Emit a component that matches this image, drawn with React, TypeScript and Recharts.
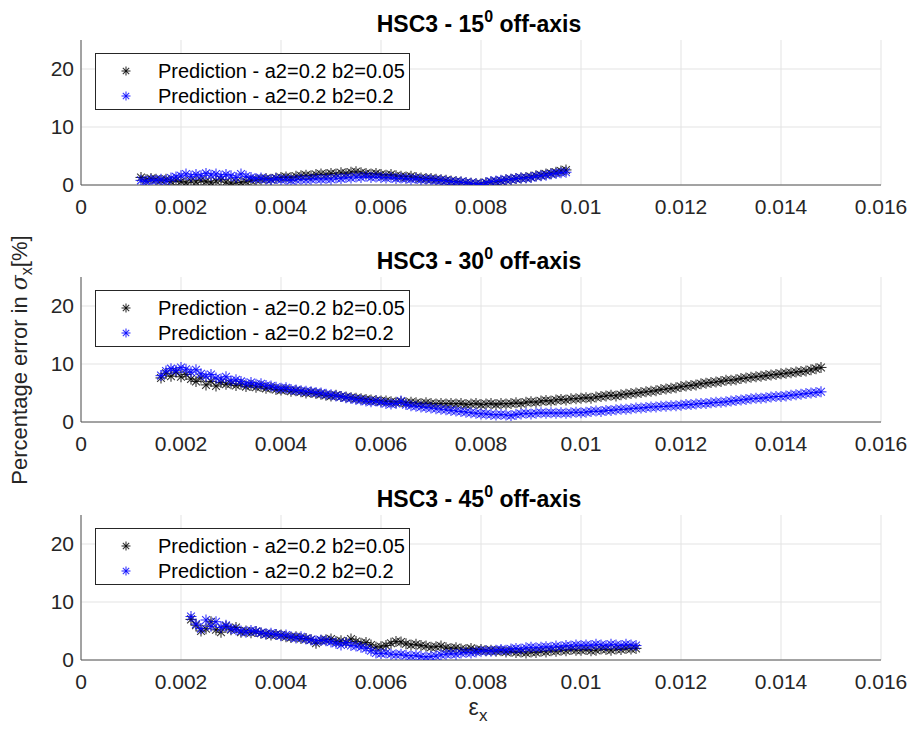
import { ScatterChart, Scatter, XAxis, YAxis, CartesianGrid, Legend } from 'recharts';

const FONT = '"Liberation Sans", Arial, sans-serif';

const xTicks = [0, 0.002, 0.004, 0.006, 0.008, 0.01, 0.012, 0.014, 0.016];
const yTicks = [0, 10, 20];
const seriesNames = ['Prediction - a2=0.2 b2=0.05', 'Prediction - a2=0.2 b2=0.2'];
const seriesColors = ['#000000', '#0000ff'];

// strain values in units of 1e-4
const strain15 = [
  12, 13, 14, 15, 16, 17, 18, 19, 20, 21, 22, 23, 24, 25, 26, 27, 28, 29, 30, 31, 32, 33, 34, 35, 36, 37, 38, 39, 40, 41,
  42, 43, 44, 45, 46, 47, 48, 49, 50, 51, 52, 53, 54, 55, 56, 57, 58, 59, 60, 61, 62, 63, 64, 65, 66, 67, 68, 69, 70, 71,
  72, 73, 74, 75, 76, 77, 78, 79, 80, 81, 82, 83, 84, 85, 86, 87, 88, 89, 90, 91, 92, 93, 94, 95, 96, 97,
];
const err15b005 = [
  1.3, 0.9, 1.1, 1.0, 0.8, 1.0, 0.6, 0.8, 0.6, 0.4, 0.7, 0.5, 0.8, 0.6, 0.4, 0.7, 0.9, 0.5, 0.3, 0.5, 0.4, 0.6, 0.8, 0.9, 1.0, 1.1, 1.0, 1.2, 1.3, 1.4,
  1.3, 1.5, 1.6, 1.7, 1.6, 1.8, 1.9, 1.8, 2.0, 1.9, 2.1, 2.0, 2.2, 2.3, 2.1, 2.0, 1.9, 2.0, 1.8, 1.7, 1.8, 1.6, 1.5, 1.4, 1.5, 1.3, 1.2, 1.1, 1.1, 1.0,
  0.9, 0.8, 0.7, 0.6, 0.5, 0.4, 0.3, 0.2, 0.2, 0.4, 0.5, 0.6, 0.7, 0.9, 1.0, 1.1, 1.2, 1.3, 1.4, 1.6, 1.7, 1.9, 2.0, 2.2, 2.4, 2.6,
];
const err15b02 = [
  0.8, 0.6, 0.9, 0.8, 1.0, 0.7, 1.2, 1.4, 1.6, 1.9, 1.5, 1.8, 1.6, 2.0, 1.7, 1.9, 1.5, 1.8, 1.6, 1.3, 1.9, 1.5, 1.3, 1.1, 1.2, 1.0, 0.9, 1.1, 0.9, 1.0,
  0.8, 0.9, 1.0, 0.9, 1.0, 1.1, 1.0, 1.1, 1.0, 1.2, 1.1, 1.3, 1.2, 1.4, 1.3, 1.5, 1.3, 1.4, 1.3, 1.2, 1.3, 1.1, 1.2, 1.1, 1.0, 1.1, 0.9, 1.0, 0.9, 0.8,
  0.8, 0.7, 0.6, 0.5, 0.5, 0.4, 0.3, 0.2, 0.1, 0.4, 0.6, 0.7, 0.8, 0.9, 1.0, 1.1, 1.2, 1.2, 1.3, 1.5, 1.6, 1.7, 1.9, 2.0, 2.1, 2.2,
];

const strain30 = [
  16, 17, 18, 19, 20, 21, 22, 23, 24, 25, 26, 27, 28, 29, 30, 31, 32, 33, 34, 35, 36, 37, 38, 39, 40, 41, 42, 43, 44, 45,
  46, 47, 48, 49, 50, 51, 52, 53, 54, 55, 56, 57, 58, 59, 60, 61, 62, 63, 64, 65, 66, 67, 68, 69, 70, 71, 72, 73, 74, 75,
  76, 77, 78, 79, 80, 81, 82, 83, 84, 85, 86, 87, 88, 89, 90, 91, 92, 93, 94, 95, 96, 97, 98, 99, 100, 101, 102, 103, 104, 105,
  106, 107, 108, 109, 110, 111, 112, 113, 114, 115, 116, 117, 118, 119, 120, 121, 122, 123, 124, 125, 126, 127, 128, 129, 130, 131, 132, 133, 134, 135,
  136, 137, 138, 139, 140, 141, 142, 143, 144, 145, 146, 147, 148,
];
const err30b005 = [
  7.6, 8.4, 7.9, 8.6, 7.8, 8.2, 7.4, 7.0, 7.6, 6.4, 7.0, 6.2, 6.8, 6.5, 6.6, 6.3, 6.5, 6.1, 6.3, 6.0, 6.1, 5.8, 5.9, 5.6, 5.5, 5.6, 5.3, 5.4, 5.2, 5.0,
  5.1, 4.9, 4.8, 4.6, 4.5, 4.6, 4.4, 4.3, 4.2, 4.1, 4.0, 3.9, 3.8, 3.7, 3.6, 3.6, 3.5, 3.4, 3.5, 3.3, 3.4, 3.3, 3.2, 3.3, 3.2, 3.1, 3.2, 3.1, 3.2, 3.1,
  3.2, 3.0, 3.1, 3.2, 3.0, 3.1, 3.2, 3.0, 3.2, 3.1, 3.2, 3.3, 3.2, 3.4, 3.5, 3.4, 3.6, 3.7, 3.6, 3.8, 3.9, 3.8, 4.0, 4.0, 4.1, 4.2, 4.1, 4.3, 4.4, 4.5,
  4.6, 4.5, 4.7, 4.8, 4.9, 5.0, 5.1, 5.2, 5.3, 5.4, 5.6, 5.7, 5.8, 5.9, 6.1, 6.2, 6.3, 6.4, 6.6, 6.7, 6.8, 6.9, 7.0, 7.2, 7.2, 7.3, 7.5, 7.6, 7.7, 7.8,
  7.9, 8.0, 8.1, 8.2, 8.3, 8.4, 8.5, 8.6, 8.7, 8.8, 9.0, 9.2, 9.4,
];
const err30b02 = [
  8.0, 8.8, 9.2, 8.9, 9.4, 9.1, 8.6, 9.0, 8.3, 7.9, 8.2, 7.6, 7.4, 7.8, 7.1, 7.3, 7.0, 6.6, 6.8, 6.5, 6.6, 6.3, 6.2, 6.0, 5.8, 5.9, 5.6, 5.5, 5.4, 5.3,
  5.2, 5.1, 5.0, 4.8, 4.7, 4.5, 4.4, 4.2, 4.1, 3.9, 3.8, 3.6, 3.5, 3.6, 3.4, 3.2, 3.1, 3.2, 3.6, 3.0, 2.8, 2.7, 2.6, 2.5, 2.4, 2.3, 2.2, 2.1, 2.0, 1.9,
  1.8, 1.7, 1.6, 1.5, 1.4, 1.4, 1.3, 1.2, 1.3, 1.2, 1.1, 1.3, 1.4, 1.5, 1.4, 1.5, 1.6, 1.5, 1.6, 1.5, 1.6, 1.5, 1.6, 1.7, 1.6, 1.7, 1.8, 1.9, 1.8, 2.0,
  2.0, 2.1, 2.2, 2.2, 2.3, 2.4, 2.4, 2.5, 2.6, 2.6, 2.7, 2.7, 2.8, 2.8, 2.9, 3.0, 3.0, 3.1, 3.2, 3.2, 3.3, 3.4, 3.4, 3.5, 3.6, 3.7, 3.8, 3.9, 4.0, 4.1,
  4.1, 4.2, 4.3, 4.4, 4.4, 4.5, 4.6, 4.7, 4.8, 4.9, 5.0, 5.1, 5.2,
];

const strain45 = [
  22, 23, 24, 25, 26, 27, 28, 29, 30, 31, 32, 33, 34, 35, 36, 37, 38, 39, 40, 41, 42, 43, 44, 45, 46, 47, 48, 49, 50, 51,
  52, 53, 54, 55, 56, 57, 58, 59, 60, 61, 62, 63, 64, 65, 66, 67, 68, 69, 70, 71, 72, 73, 74, 75, 76, 77, 78, 79, 80, 81,
  82, 83, 84, 85, 86, 87, 88, 89, 90, 91, 92, 93, 94, 95, 96, 97, 98, 99, 100, 101, 102, 103, 104, 105, 106, 107, 108, 109, 110, 111,
];
const err45b005 = [
  7.0, 6.0, 5.0, 5.4, 6.6, 5.2, 4.8, 5.8, 5.2, 5.6, 4.8, 5.0, 4.7, 4.9, 4.6, 4.5, 4.3, 4.4, 4.3, 4.0, 3.9, 4.0, 3.7, 3.7, 3.5, 2.9, 3.4, 3.5, 3.6, 3.2,
  3.3, 3.0, 3.6, 3.2, 2.9, 3.0, 2.6, 2.2, 2.3, 2.5, 2.9, 3.2, 3.1, 2.8, 2.6, 2.7, 2.5, 2.4, 2.2, 2.3, 2.4, 2.1, 2.0, 2.1, 1.9, 1.8, 2.0, 1.7, 1.8, 1.6,
  1.7, 1.5, 1.6, 1.4, 1.5, 1.3, 1.4, 1.2, 1.4, 1.3, 1.5, 1.4, 1.6, 1.5, 1.7, 1.6, 1.8, 1.7, 1.7, 1.8, 1.6, 1.7, 1.9, 1.8, 1.7, 1.9, 1.8, 2.0, 1.9, 2.0,
];
const err45b02 = [
  7.5, 6.2, 5.4, 6.9, 5.8, 6.6, 5.6, 6.0, 5.4, 5.2, 5.0, 4.8, 5.1, 4.9, 4.7, 4.5, 4.6, 4.4, 4.2, 4.3, 4.0, 3.8, 4.0, 3.6, 3.5, 3.3, 3.4, 3.3, 3.1, 2.9,
  2.6, 3.0, 2.5, 2.4, 2.2, 2.0, 1.6, 1.2, 1.1, 1.2, 1.0, 0.9, 1.0, 0.8, 0.7, 0.8, 0.6, 0.5, 0.6, 0.7, 0.9, 1.0, 1.1, 1.0, 1.2, 1.3, 1.2, 1.4, 1.5, 1.6,
  1.5, 1.7, 1.8, 1.7, 1.9, 2.0, 1.9, 2.1, 2.2, 2.1, 2.2, 2.3, 2.2, 2.4, 2.3, 2.5, 2.4, 2.6, 2.5, 2.6, 2.5, 2.7, 2.6, 2.5, 2.7, 2.6, 2.5, 2.7, 2.6, 2.5,
];

const toPoints = (strain: number[], err: number[]) =>
  strain.map((s, i) => ({ x: s / 10000, y: err[i] }));

function Asterisk({ cx, cy, color, r = 5.5 }: { cx: number; cy: number; color: string; r?: number }) {
  const d = r * 0.707;
  return (
    <g stroke={color} strokeWidth={1.1} strokeOpacity={0.8}>
      <line x1={cx - r} y1={cy} x2={cx + r} y2={cy} />
      <line x1={cx} y1={cy - r} x2={cx} y2={cy + r} />
      <line x1={cx - d} y1={cy - d} x2={cx + d} y2={cy + d} />
      <line x1={cx - d} y1={cy + d} x2={cx + d} y2={cy - d} />
    </g>
  );
}

function PanelLegend() {
  return (
    <div
      style={{
        position: 'relative',
        width: 313,
        height: 55,
        border: '1px solid #262626',
        background: '#fff',
        fontFamily: FONT,
        fontSize: 20,
        color: '#000',
      }}
    >
      {seriesNames.map((name, i) => (
        <div key={name} style={{ position: 'absolute', left: 0, top: 5 + i * 25, height: 24, width: 313 }}>
          <svg width={40} height={24} style={{ position: 'absolute', left: 12, top: 0 }}>
            <Asterisk cx={18} cy={12} color={seriesColors[i]} r={4.5} />
          </svg>
          <span style={{ position: 'absolute', left: 62, top: 0, lineHeight: '24px', whiteSpace: 'nowrap' }}>{name}</span>
        </div>
      ))}
    </div>
  );
}

const fmtX = (v: number) => String(Number(v.toFixed(4)));

function Panel({ top, low, high }: { top: number; low: { x: number; y: number }[]; high: { x: number; y: number }[] }) {
  const tick = { fontSize: 21, fill: '#262626', fontFamily: FONT };
  return (
    <div style={{ position: 'absolute', left: 0, top, width: 907, height: 225 }}>
      <ScatterChart width={907} height={225} margin={{ top: 40, right: 26, bottom: 5, left: 31 }}>
        <CartesianGrid stroke="#e3e3e3" horizontalValues={yTicks} verticalValues={xTicks} />
        <XAxis
          type="number"
          dataKey="x"
          domain={[0, 0.016]}
          ticks={xTicks}
          tickFormatter={fmtX}
          height={35}
          tickLine={false}
          tickSize={0}
          tickMargin={14}
          stroke="#555"
          tick={tick}
          allowDataOverflow
        />
        <YAxis
          type="number"
          dataKey="y"
          domain={[0, 25]}
          ticks={yTicks}
          width={50}
          tickLine={false}
          tickSize={0}
          tickMargin={7}
          stroke="#555"
          tick={tick}
          allowDataOverflow
        />
        <Legend
          layout="vertical"
          align="center"
          verticalAlign="middle"
          wrapperStyle={{ left: 95, top: 53, width: 315, height: 57 }}
          content={() => <PanelLegend />}
        />
        <Scatter
          name={seriesNames[0]}
          data={low}
          isAnimationActive={false}
          shape={(p: any) => <Asterisk cx={p.cx} cy={p.cy} color={seriesColors[0]} />}
        />
        <Scatter
          name={seriesNames[1]}
          data={high}
          isAnimationActive={false}
          shape={(p: any) => <Asterisk cx={p.cx} cy={p.cy} color={seriesColors[1]} />}
        />
      </ScatterChart>
    </div>
  );
}

const titles = [
  { angle: '15', y: 32 },
  { angle: '30', y: 269 },
  { angle: '45', y: 507 },
];

export default function App() {
  return (
    <div style={{ position: 'absolute', left: 0, top: 0, width: 907, height: 735, background: '#fff' }}>
      <Panel top={0} low={toPoints(strain15, err15b005)} high={toPoints(strain15, err15b02)} />
      <Panel top={237} low={toPoints(strain30, err30b005)} high={toPoints(strain30, err30b02)} />
      <Panel top={475} low={toPoints(strain45, err45b005)} high={toPoints(strain45, err45b02)} />
      <svg
        width={907}
        height={735}
        style={{ position: 'absolute', left: 0, top: 0, pointerEvents: 'none' }}
        fontFamily={FONT}
      >
        {titles.map((t) => (
          <text key={t.angle} x={479} y={t.y} textAnchor="middle" fontSize={23} fontWeight="bold" fill="#000">
            HSC3 - {t.angle}
            <tspan dy={-10} fontSize={16}>0</tspan>
            <tspan dy={10}> off-axis</tspan>
          </text>
        ))}
        <text x={27} y={360} transform="rotate(-90 27 360)" textAnchor="middle" fontSize={22} fill="#262626">
          Percentage error in <tspan fontStyle="italic" fontFamily="DejaVu Serif">σ</tspan>
          <tspan dy={5} fontSize={16}>x</tspan>
          <tspan dy={-5}>[%]</tspan>
        </text>
        <text x={478} y={715} textAnchor="middle" fontSize={23} fill="#262626">
          ε<tspan dy={6} fontSize={17}>x</tspan>
        </text>
      </svg>
    </div>
  );
}
